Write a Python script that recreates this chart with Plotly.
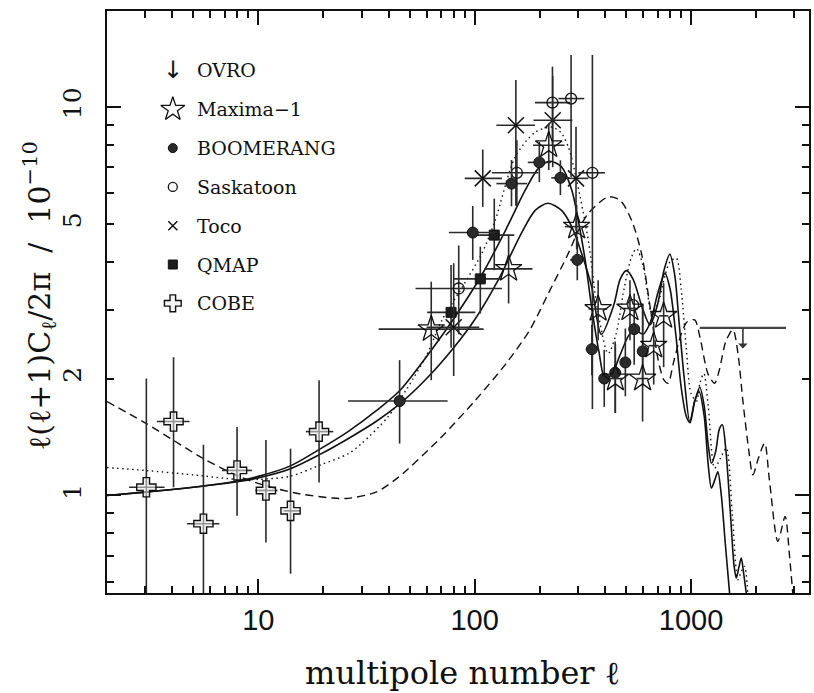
import numpy as np
import plotly.graph_objects as go

# ---------------- band powers  l(l+1)C_l/2pi  [1e-10] ----------------
# COBE DMR
cobe_l = [3.04, 4.06, 5.58, 7.98, 10.85, 14.1, 19.1]
cobe_l_lo = [2.53, 3.40, 4.69, 6.80, 9.69, 13.1, 16.6]
cobe_l_hi = [3.69, 4.81, 6.61, 9.35, 12.27, 15.7, 22.2]
cobe_v = [1.05, 1.55, 0.846, 1.16, 1.03, 0.913, 1.46]
cobe_v_lo = [0.2, 1.05, 0.2, 0.887, 0.757, 0.629, 1.08]
cobe_v_hi = [2.0, 2.27, 1.35, 1.50, 1.39, 1.32, 1.98]

# BOOMERANG
boom_l = [45, 98, 148, 199, 249, 298, 348, 397, 446, 497, 546, 598]
boom_l_lo = [26, 76, 126, 176, 226, 276, 326, 376, 426, 476, 526, 576]
boom_l_hi = [75, 125, 175, 225, 275, 325, 375, 425, 475, 525, 575, 625]
boom_v = [1.75, 4.75, 6.35, 7.2, 6.57, 4.04, 2.38, 2.0, 2.07, 2.2, 2.68, 2.35]
boom_v_lo = [1.36, 4.04, 5.55, 6.41, 5.93, 3.58, 2.04, 1.69, 1.63, 1.80, 2.17, 1.91]
boom_v_hi = [2.23, 5.56, 7.30, 8.13, 7.29, 4.63, 2.75, 2.37, 2.49, 2.69, 3.31, 3.09]

# Maxima-1
max_l = [63, 143.5, 220, 296, 372, 447, 522, 597, 672, 747]
max_l_lo = [36, 111, 186, 261, 336, 411, 486, 561, 636, 711]
max_l_hi = [110, 185, 260, 335, 410, 485, 560, 635, 710, 785]
max_v = [2.68, 3.83, 7.97, 4.92, 3.02, 2.0, 3.03, 2.0, 2.43, 2.90]
max_v_lo = [1.98, 3.12, 6.88, 4.30, 2.51, 1.63, 2.51, 1.55, 1.93, 2.14]
max_v_hi = [3.55, 4.68, 9.07, 5.60, 3.58, 2.45, 3.58, 3.11, 2.80, 3.52]

# Saskatoon
sask_l = [84.4, 156.7, 228.8, 279, 350, 540]
sask_l_lo = [53.3, 120, 190, 244, 301, 540]
sask_l_hi = [133.6, 197, 276, 321, 400, 540]
sask_v = [3.41, 6.77, 10.26, 10.51, 6.77, 3.09]
sask_v_lo = [2.6, 5.53, 7.92, 6.6, 1.67, 3.09]
sask_v_hi = [4.4, 8.21, 12.7, 13.6, 13.6, 3.09]

# Toco
toco_l = [80, 109, 155, 229.5, 294]
toco_l_lo = [60, 90, 126, 187, 252]
toco_l_hi = [105, 133.6, 190, 283, 335]
toco_v = [2.71, 6.55, 8.97, 9.24, 6.55]
toco_v_lo = [2.03, 5.53, 5.57, 7.0, 4.8]
toco_v_hi = [3.96, 7.77, 11.74, 12.0, 8.9]

# QMAP
qmap_l = [77.8, 106.2, 123.2]
qmap_l_lo = [60.3, 80, 102.6]
qmap_l_hi = [100.7, 133.6, 152.4]
qmap_v = [2.96, 3.61, 4.68]
qmap_v_lo = [2.4, 2.94, 3.80]
qmap_v_hi = [3.92, 4.37, 5.81]

# OVRO upper limit
ovro_l = [1736]
ovro_l_lo = [1097]
ovro_l_hi = [2748]
ovro_v = [2.70]

# ---------------- model spectra ----------------
solid1_l = [2, 3, 5, 8, 10, 14, 19, 26, 35, 45, 60, 80, 108, 138.5, 171, 197, 223, 252,
            281, 301, 324, 347, 375, 400, 430, 470, 520, 560, 600, 650, 700, 757, 800,
            850, 900, 950, 990, 1040, 1090, 1150, 1200, 1242, 1290, 1330, 1380, 1440, 1507]
solid1_v = [1.0, 1.02, 1.05, 1.09, 1.12, 1.19, 1.31, 1.46, 1.65, 1.86, 2.28, 2.85, 3.7,
            4.8, 6.1, 6.95, 7.25, 7.01, 6.11, 5.11, 4.04, 3.06, 2.35, 2.0, 2.05, 2.3,
            2.6, 2.65, 2.6, 2.8, 3.3, 3.73, 3.4, 2.6, 1.9, 1.6, 1.54, 1.75, 1.85, 1.6,
            1.2, 1.045, 1.1, 1.15, 1.0, 0.75, 0.56]

solid2_l = [2, 3, 5, 8, 10, 14, 19, 26, 35, 45, 60, 80, 100.7, 129, 165, 190.5, 218, 252,
            281, 312, 347, 385, 440, 470, 503, 540, 600, 646, 700, 750, 798, 840, 880,
            930, 986, 1040, 1097, 1150, 1200, 1242, 1300, 1350, 1395, 1450, 1520, 1580,
            1618, 1660, 1706, 1750, 1800]
solid2_v = [1.0, 1.02, 1.05, 1.085, 1.11, 1.17, 1.27, 1.40, 1.55, 1.72, 2.0, 2.4, 2.85,
            3.6, 4.75, 5.42, 5.65, 5.42, 4.92, 4.2, 3.45, 2.6, 3.1, 3.6, 3.79, 3.6, 3.0,
            2.75, 3.1, 3.8, 4.18, 3.7, 2.8, 2.0, 1.55, 1.75, 1.9, 1.7, 1.35, 1.21, 1.3,
            1.48, 1.52, 1.3, 0.9, 0.66, 0.613, 0.65, 0.69, 0.63, 0.56]

dotted_l = [2, 3, 5, 8, 10, 14, 19.5, 26, 30, 40, 52, 60, 70.7, 84, 108, 124.5, 154, 190,
            227, 250, 271, 296, 335, 370, 414, 450, 490, 530, 560, 600, 630, 656, 700,
            760, 800, 855, 900, 950, 1000, 1060, 1100, 1146, 1200, 1285, 1370, 1455,
            1550, 1647, 1710, 1766, 1828]
dotted_v = [1.18, 1.16, 1.13, 1.10, 1.10, 1.12, 1.20, 1.28, 1.36, 1.6, 2.0, 2.3, 2.83,
            3.31, 4.2, 5.11, 7.44, 8.6, 8.88, 8.6, 7.89, 6.48, 4.54, 3.0, 2.32, 2.6, 3.4,
            4.1, 4.32, 3.9, 3.3, 2.94, 3.1, 3.7, 4.0, 4.08, 3.4, 2.4, 1.83, 1.75, 1.95,
            2.06, 1.7, 1.176, 1.25, 1.324, 0.9, 0.607, 0.64, 0.657, 0.56]

dashed_l = [2, 2.93, 4.03, 5.54, 8.17, 10.85, 15.5, 22, 26, 35, 44.5, 69, 100, 141, 180,
            219, 271, 301, 335, 414, 470, 531, 590, 650, 705, 750, 783, 830, 900, 960,
            1040, 1100, 1200, 1285, 1350, 1450, 1562, 1650, 1736, 1850, 1930, 2050, 2188,
            2300, 2519, 2720, 2850, 2951]
dashed_v = [1.745, 1.55, 1.39, 1.247, 1.119, 1.059, 1.01, 0.985, 0.983, 1.02, 1.115, 1.4,
            1.75, 2.2, 2.67, 3.31, 4.2, 4.8, 5.32, 5.87, 5.75, 5.11, 4.2, 3.0, 2.23, 1.98,
            1.945, 2.2, 2.6, 2.8, 2.83, 2.55, 2.05, 1.945, 2.1, 2.5, 2.67, 2.3, 1.75, 1.3,
            1.13, 1.25, 1.364, 1.1, 0.762, 0.883, 0.7, 0.56]

# ---------------- legend rows ----------------
legend_names = ["OVRO", "Maxima\u22121", "BOOMERANG", "Saskatoon", "Toco", "QMAP", "COBE"]

# ---------------- geometry / style ----------------
W, H = 814, 693
ML, MR, MT, MB = 107, 3, 11, 100
PW, PH = W - ML - MR, H - MT - MB
X_RANGE = [np.log10(2.0), 3.545]
Y_RANGE = [-0.251, 1.247]
INK = "#111111"
ERR = "#2a2a2a"


def px_to_paper(px, py):
    return (px - ML) / PW, (H - MB - py) / PH


def band(l, l_lo, l_hi, v, v_lo, v_hi, marker, ecolor=ERR, ewidth=1.6):
    l = np.asarray(l, float)
    v = np.asarray(v, float)
    return go.Scatter(
        x=l, y=v, mode="markers", marker=marker, showlegend=False, hoverinfo="skip",
        error_x=dict(type="data", symmetric=False, array=np.asarray(l_hi) - l,
                     arrayminus=l - np.asarray(l_lo), width=0, thickness=ewidth, color=ecolor),
        error_y=dict(type="data", symmetric=False, array=np.asarray(v_hi) - v,
                     arrayminus=v - np.asarray(v_lo), width=0, thickness=ewidth, color=ecolor),
    )


STAR = dict(symbol="star-open", color=INK, line=dict(color=INK, width=1.3))
DISC = dict(symbol="circle", color="#2b2b2b", line=dict(color=INK, width=1))
RING = dict(symbol="circle-open", color=INK, line=dict(color=INK, width=1.3))
CROSS_X = dict(symbol="x-thin-open", color=INK, line=dict(color=INK, width=1.5))
BOX = dict(symbol="square", color="#1c1c1c", line=dict(color=INK, width=1))
PLUS = dict(symbol="cross", color="rgba(235,235,235,0.55)", line=dict(color=INK, width=1.4))

fig = go.Figure()

# model curves
curve_style = dict(mode="lines", showlegend=False, hoverinfo="skip")
fig.add_trace(go.Scatter(x=dashed_l, y=dashed_v, line=dict(color=INK, width=1.4, dash="8px,5px",
                                                           shape="spline", smoothing=0.8), **curve_style))
fig.add_trace(go.Scatter(x=dotted_l, y=dotted_v, line=dict(color=INK, width=1.4, dash="1.5px,3.5px",
                                                           shape="spline", smoothing=0.8), **curve_style))
fig.add_trace(go.Scatter(x=solid2_l, y=solid2_v, line=dict(color=INK, width=1.6,
                                                           shape="spline", smoothing=0.8), **curve_style))
fig.add_trace(go.Scatter(x=solid1_l, y=solid1_v, line=dict(color=INK, width=1.6,
                                                           shape="spline", smoothing=0.8), **curve_style))

# data sets
fig.add_trace(band(cobe_l, cobe_l_lo, cobe_l_hi, cobe_v, cobe_v_lo, cobe_v_hi, dict(PLUS, size=16)))
fig.add_trace(band(qmap_l, qmap_l_lo, qmap_l_hi, qmap_v, qmap_v_lo, qmap_v_hi, dict(BOX, size=10)))
fig.add_trace(band(toco_l, toco_l_lo, toco_l_hi, toco_v, toco_v_lo, toco_v_hi, dict(CROSS_X, size=16)))
fig.add_trace(band(sask_l, sask_l_lo, sask_l_hi, sask_v, sask_v_lo, sask_v_hi, dict(RING, size=11)))
fig.add_trace(band(boom_l, boom_l_lo, boom_l_hi, boom_v, boom_v_lo, boom_v_hi, dict(DISC, size=11)))
fig.add_trace(band(max_l, max_l_lo, max_l_hi, max_v, max_v_lo, max_v_hi, dict(STAR, size=20)))

# OVRO: bin-wide bar with a downward arrow
ovro = np.asarray(ovro_l, float)
fig.add_trace(go.Scatter(
    x=ovro, y=ovro_v, mode="markers", marker=dict(size=1, color="rgba(0,0,0,0)"),
    showlegend=False, hoverinfo="skip",
    error_x=dict(type="data", symmetric=False, array=np.asarray(ovro_l_hi) - ovro,
                 arrayminus=ovro - np.asarray(ovro_l_lo), width=0, thickness=2.2, color="#444")))
fig.add_annotation(x=np.log10(ovro_l[0]), y=np.log10(ovro_v[0]), xref="x", yref="y",
                   text="", showarrow=True, ax=0, ay=22, arrowside="start", arrowhead=4,
                   arrowsize=1.2, arrowwidth=1.6, arrowcolor="#333")

# legend (symbols on an overlay frame spanning the plot area)
row_y = [70.5 + 38.8 * i for i in range(len(legend_names))]
sym_x, txt_x = 173, 195
legend_markers = [None, dict(STAR, size=18), dict(DISC, size=9), dict(RING, size=9),
                  dict(CROSS_X, size=9), dict(BOX, size=9), dict(PLUS, size=14)]
for name, py, mk in zip(legend_names, row_y, legend_markers):
    xp, yp = px_to_paper(sym_x, py)
    if mk is None:
        fig.add_annotation(x=xp, y=yp, xref="paper", yref="paper", text="\u2193", showarrow=False,
                           font=dict(family="DejaVu Sans", size=24, color=INK),
                           xanchor="center", yanchor="middle")
    else:
        fig.add_trace(go.Scatter(x=[xp], y=[yp], xaxis="x2", yaxis="y3", mode="markers",
                                 marker=mk, showlegend=False, hoverinfo="skip"))
    tx, ty = px_to_paper(txt_x, py)
    fig.add_annotation(x=tx, y=ty, xref="paper", yref="paper", text=name, showarrow=False,
                       font=dict(family="DejaVu Serif", size=19, color=INK),
                       xanchor="left", yanchor="middle")

# long ticks at decades on the y axis
fig.add_trace(go.Scatter(x=[], y=[], xaxis="x", yaxis="y2", showlegend=False))

# axis titles
tx, ty = px_to_paper(464, 673)
fig.add_annotation(x=tx, y=ty, xref="paper", yref="paper", text="multipole number \u2113",
                   showarrow=False, font=dict(family="DejaVu Serif", size=32, color=INK),
                   xanchor="center", yanchor="middle")
tx, ty = px_to_paper(39, 296)
fig.add_annotation(x=tx, y=ty, xref="paper", yref="paper",
                   text="\u2113(\u2113+1)C<sub>\u2113</sub>/2\u03c0  /  10<sup>\u221210</sup>",
                   textangle=-90, showarrow=False,
                   font=dict(family="DejaVu Serif", size=30, color=INK),
                   xanchor="center", yanchor="middle")

x_minor = [3, 4, 5, 6, 7, 8, 9, 20, 30, 40, 50, 60, 70, 80, 90,
           200, 300, 400, 500, 600, 700, 800, 900, 2000, 3000]
y_minor = [0.6, 0.7, 0.8, 0.9, 3, 4, 6, 7, 8, 9]

frame = dict(showgrid=False, zeroline=False, showline=True, linecolor=INK, linewidth=1.6,
             mirror="ticks", ticks="inside", tickcolor=INK, tickwidth=1.5)

fig.update_layout(
    width=W, height=H, margin=dict(l=ML, r=MR, t=MT, b=MB),
    paper_bgcolor="white", plot_bgcolor="white", showlegend=False,
    xaxis=dict(type="log", range=X_RANGE, tickvals=[10, 100, 1000], ticktext=["10", "100", "1000"],
               ticklen=14, tickfont=dict(family="Liberation Sans", size=29, color=INK),
               ticklabelstandoff=0,
               minor=dict(ticks="inside", ticklen=7, tickwidth=1.5, tickcolor=INK, tickvals=x_minor),
               **frame),
    yaxis=dict(type="log", range=Y_RANGE, tickvals=[1, 2, 5, 10], ticktext=["1", "2", "5", "10"],
               ticklen=7, tickangle=-90, tickfont=dict(family="DejaVu Serif", size=25, color=INK),
               ticklabelstandoff=14,
               minor=dict(ticks="inside", ticklen=7, tickwidth=1.5, tickcolor=INK, tickvals=y_minor),
               **frame),
    yaxis2=dict(type="log", range=Y_RANGE, overlaying="y", tickvals=[1, 10], ticklen=14,
                showticklabels=False, **frame),
    xaxis2=dict(range=[0, 1], overlaying="x", visible=False),
    yaxis3=dict(range=[0, 1], overlaying="y", visible=False),
)

fig.write_html("out.html")
